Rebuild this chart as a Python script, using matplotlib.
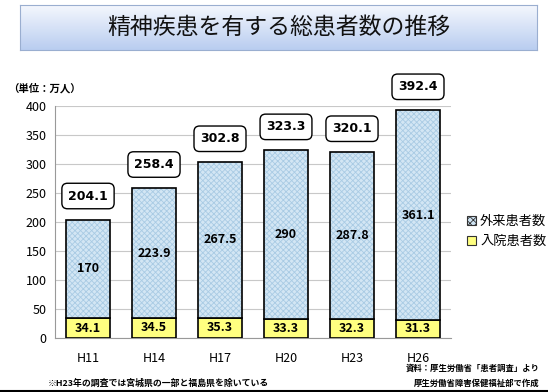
import matplotlib
matplotlib.use("Agg")
import matplotlib.pyplot as plt
import numpy as np
from matplotlib.patches import Patch
from matplotlib.lines import Line2D
from matplotlib.colors import LinearSegmentedColormap

plt.rcParams['font.family'] = ['Noto Sans CJK JP', 'DejaVu Sans']
plt.rcParams['hatch.linewidth'] = 0.6

years = ["H11", "H14", "H17", "H20", "H23", "H26"]
inpatient = [34.1, 34.5, 35.3, 33.3, 32.3, 31.3]
outpatient = [170, 223.9, 267.5, 290, 287.8, 361.1]
totals = [204.1, 258.4, 302.8, 323.3, 320.1, 392.4]
yticks = [0, 50, 100, 150, 200, 250, 300, 350, 400]

W, H = 548, 392
fig = plt.figure(figsize=(W/100, H/100), dpi=100)

# title box with gradient
tax = fig.add_axes([20/W, 1-50/H, 517/W, 45/H])
grad = np.linspace(0, 1, 100)[:, None]
cmap = LinearSegmentedColormap.from_list("g", ["#f4f7fd", "#b9cdf0"])
tax.imshow(grad, aspect='auto', cmap=cmap, extent=[0, 1, 0, 1], origin='upper')
tax.set_xlim(0, 1); tax.set_ylim(0, 1)
tax.set_xticks([]); tax.set_yticks([])
for s in tax.spines.values():
    s.set_color('#9aaed0'); s.set_linewidth(0.8)
tax.text(0.5, 0.5, "精神疾患を有する総患者数の推移", ha='center', va='center',
         fontsize=16.5, color='#111111')

ax = fig.add_axes([55/W, 1-338/H, 396/W, 232/H])
x = np.arange(len(years))
bw = 0.67
ax.bar(x, inpatient, bw, color='#ffff80', edgecolor='black', linewidth=1.2, zorder=3)
ax.bar(x, outpatient, bw, bottom=inpatient, color='#d3e6f4', edgecolor='#a9cbe4',
       hatch='xxxxxx', linewidth=0, zorder=3)
ax.bar(x, outpatient, bw, bottom=inpatient, color='none', edgecolor='black',
       linewidth=1.2, zorder=4)

for i in range(len(years)):
    ax.text(x[i], inpatient[i]/2, f"{inpatient[i]:g}", ha='center', va='center',
            fontsize=9, fontweight='bold', zorder=5)
    ax.text(x[i], inpatient[i] + outpatient[i]/2, f"{outpatient[i]:g}", ha='center',
            va='center', fontsize=9, fontweight='bold', zorder=5)
    ax.annotate(f"{totals[i]:g}", (x[i], totals[i]), xytext=(0, 17),
                textcoords='offset points', ha='center', va='center',
                fontsize=9, fontweight='bold', family=['DejaVu Sans'],
                bbox=dict(boxstyle='round,pad=0.5,rounding_size=0.45',
                          fc='white', ec='black', lw=1), zorder=6)

ax.set_xlim(-0.5, 5.5)
ax.set_ylim(0, 400)
ax.set_yticks(yticks)
ax.set_xticks(x)
ax.set_xticklabels(years)
ax.tick_params(axis='both', length=0, labelsize=9, pad=6)
ax.tick_params(axis='x', pad=10)
ax.grid(axis='y', color='#c8c8c8', linewidth=0.8, zorder=0)
for s in ['top', 'right']:
    ax.spines[s].set_visible(False)
ax.spines['left'].set_color('#999999')
ax.spines['bottom'].set_color('#999999')

handles = [Patch(facecolor='#cfe4f3', edgecolor='#333333', hatch='xxxxx', lw=0.8),
           Patch(facecolor='#ffff80', edgecolor='#333333', lw=0.8)]
fig.legend(handles, ["外来患者数", "入院患者数"], loc='upper left',
           bbox_to_anchor=(455/W, 1-203/H), frameon=False, fontsize=9.5,
           handlelength=0.7, handleheight=0.7, handletextpad=0.3, labelspacing=0.55)

fig.text(8/W, 1-88/H, "（単位：万人）", fontsize=7.5, fontweight='bold', va='center')
fig.text(48/W, 1-383/H, "※H23年の調査では宮城県の一部と福島県を除いている",
         fontsize=6.4, va='center', fontweight='bold')
fig.text(540/W, 1-368/H, "資料：厚生労働省「患者調査」より", fontsize=6,
         va='center', ha='right', fontweight='bold')
fig.text(540/W, 1-383/H, "厚生労働省障害保健福祉部で作成", fontsize=6,
         va='center', ha='right', fontweight='bold')
fig.add_artist(Line2D([0, 1], [1-390.5/H, 1-390.5/H], color='black', lw=1.5))

fig.savefig("out.png", dpi=100)
